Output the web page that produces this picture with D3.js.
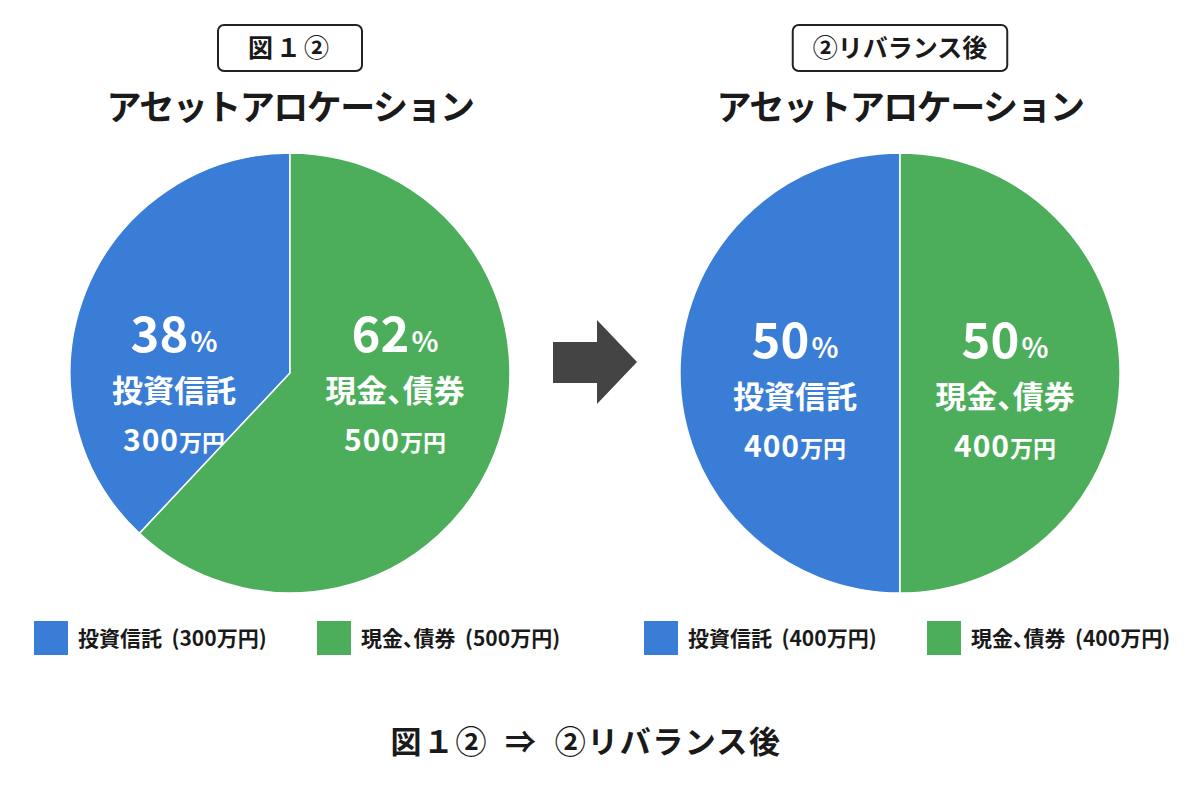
<!DOCTYPE html>
<html>
<head>
<meta charset="utf-8">
<script src="https://cdn.jsdelivr.net/npm/d3@7"></script>
<style>
  body { margin: 0; background: #fff; }
  svg { display: block; font-family: "Noto Sans CJK JP", "Noto Sans", sans-serif; }
  .palt { font-feature-settings: "palt"; }
</style>
</head>
<body>
<svg id="chart" width="1200" height="800"></svg>
<script>
// data
var categories = ['投資信託', '現金、債券'];
var beforeValues = [300, 500];
var afterValues = [400, 400];
var beforePercents = [38, 62];
var afterPercents = [50, 50];
var boxLabels = ['図１②', '②リバランス後'];
var pieTitle = 'アセットアロケーション';
var footerText = '図１②  ⇒  ②リバランス後';
var unit = '万円';
var colors = ['#3a7dd6', '#4cae5a'];

var svg = d3.select('#chart');
var R = 220, cy = 373;

var x = d3.scalePoint().domain(['before', 'after']).range([290, 900]);

var panels = [
    { key: 'before', values: beforeValues, percents: beforePercents, box: boxLabels[0], dy: 0, leftOff: 116 },
    { key: 'after', values: afterValues, percents: afterPercents, box: boxLabels[1], dy: 6, leftOff: 105 }
];

var arc = d3.arc().innerRadius(0).outerRadius(R);

panels.forEach(function(p) {
    var cx = x(p.key);
    var g = svg.append('g').attr('transform', 'translate(' + cx + ',0)');

    // boxed caption
    var cap = g.append('g').attr('transform', 'translate(0,48)');
    var capText = cap.append('text')
        .attr('text-anchor', 'middle')
        .attr('dy', '0.36em')
        .style('font-size', '25px')
        .style('font-weight', 700)
        .style('letter-spacing', p.key === 'before' ? '3px' : '0px')
        .attr('fill', '#1a1a1a')
        .text(p.box);
    var bb = capText.node().getBBox();
    var padX = p.key === 'before' ? 30 : 20;
    cap.insert('rect', 'text')
        .attr('x', bb.x - padX)
        .attr('y', -23)
        .attr('width', bb.width + padX * 2)
        .attr('height', 46)
        .attr('rx', 6)
        .attr('fill', '#fff')
        .attr('stroke', '#222')
        .attr('stroke-width', 2);

    g.append('text')
        .attr('x', 0).attr('y', 120)
        .attr('text-anchor', 'middle')
        .style('font-size', '35px')
        .style('font-weight', 700)
        .style('letter-spacing', '-1.5px')
        .attr('fill', '#1a1a1a')
        .text(pieTitle);

    // slice sizes follow the printed percentages
    var start = -2 * Math.PI * p.percents[0] / d3.sum(p.percents);
    var pie = d3.pie().sort(null).value(function(d) { return d.pct; })
        .startAngle(start).endAngle(start + 2 * Math.PI);

    var data = categories.map(function(c, i) {
        return { name: c, value: p.values[i], pct: p.percents[i], color: colors[i] };
    });

    var pg = g.append('g').attr('transform', 'translate(0,' + cy + ')');
    var slices = pg.selectAll('.slice').data(pie(data)).enter()
        .append('g').attr('class', 'slice');
    slices.append('path')
        .attr('d', arc)
        .attr('fill', function(d) { return d.data.color; })
        .attr('stroke', '#fff')
        .attr('stroke-width', 1.5);

    // labels inside slices
    var labels = slices.append('g')
        .attr('class', 'palt')
        .attr('transform', function(d) {
            var c = arc.centroid(d);
            return 'translate(' + (c[0] < 0 ? -p.leftOff : 105) + ',' + p.dy + ')';
        })
        .attr('fill', '#fff')
        .attr('text-anchor', 'middle')
        .style('font-weight', 700);

    var pct = labels.append('text').attr('y', -21);
    pct.append('tspan').style('font-size', '49px').text(function(d) { return d.data.pct; });
    pct.append('tspan').style('font-size', '28px').attr('dx', 2).text('%');

    labels.append('text')
        .attr('y', 29)
        .style('font-size', '31px')
        .text(function(d) { return d.data.name; });

    var amt = labels.append('text').attr('y', 78);
    amt.append('tspan').style('font-size', '30px').style('letter-spacing', '1px')
        .text(function(d) { return d.data.value; });
    amt.append('tspan').style('font-size', '23px').text(unit);

    // legend
    var legend = g.selectAll('.legend').data(data).enter()
        .append('g').attr('class', 'legend')
        .attr('transform', function(d, i) {
            return 'translate(' + (i === 0 ? -256 : 27) + ',621)';
        });
    legend.append('rect')
        .attr('width', 34).attr('height', 34)
        .attr('fill', function(d) { return d.color; });
    legend.append('text')
        .attr('class', 'palt')
        .attr('x', 44).attr('y', 17).attr('dy', '0.36em')
        .style('font-size', '21px')
        .style('font-weight', 700)
        .style('white-space', 'pre')
        .attr('fill', '#1a1a1a')
        .text(function(d) { return d.name + '  (' + d.value + unit + ')'; });
});

// arrow between the two pies
var ax = (x('before') + x('after')) / 2, ay = 362;
var arrow = d3.path();
arrow.moveTo(ax - 42, ay - 20);
arrow.lineTo(ax + 2, ay - 20);
arrow.lineTo(ax + 2, ay - 42);
arrow.lineTo(ax + 42, ay);
arrow.lineTo(ax + 2, ay + 42);
arrow.lineTo(ax + 2, ay + 21);
arrow.lineTo(ax - 42, ay + 21);
arrow.closePath();
svg.append('path').attr('d', arrow.toString()).attr('fill', '#444');

svg.append('text')
    .attr('x', 586).attr('y', 742)
    .attr('dy', '0.36em')
    .attr('text-anchor', 'middle')
    .style('font-size', '31px')
    .style('font-weight', 700)
    .style('letter-spacing', '1.5px')
    .style('white-space', 'pre')
    .attr('fill', '#1a1a1a')
    .text(footerText);
</script>
</body>
</html>
